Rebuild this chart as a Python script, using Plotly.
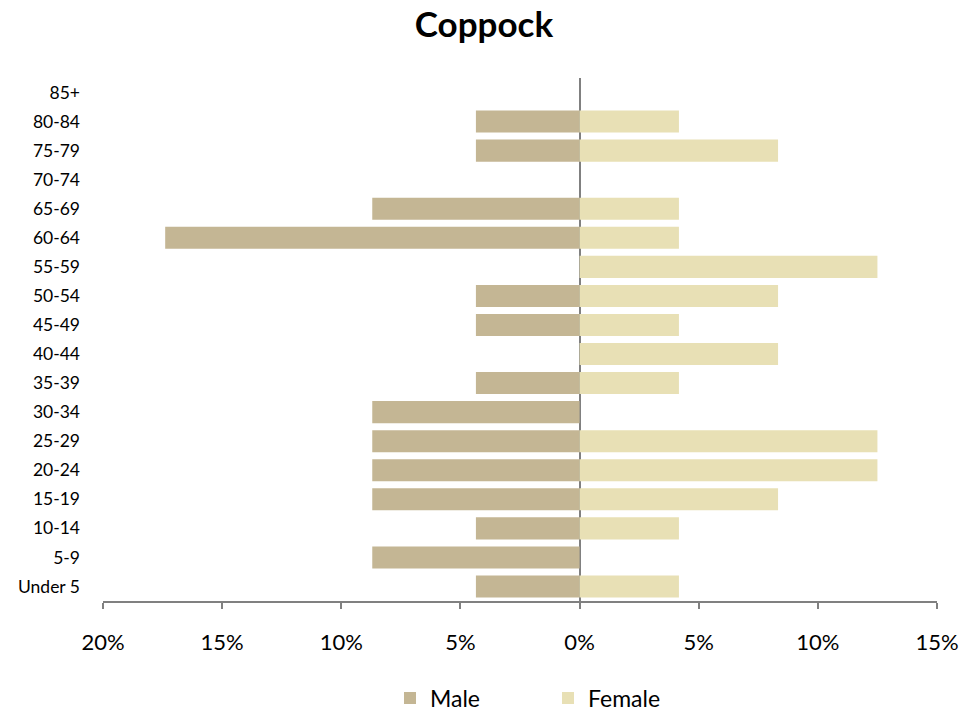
import plotly.graph_objects as go

age_groups = ["Under 5", "5-9", "10-14", "15-19", "20-24", "25-29", "30-34", "35-39",
              "40-44", "45-49", "50-54", "55-59", "60-64", "65-69", "70-74", "75-79",
              "80-84", "85+"]
male_pct = [4.35, 8.70, 4.35, 8.70, 8.70, 8.70, 8.70, 4.35,
            0.0, 4.35, 4.35, 0.0, 17.39, 8.70, 0.0, 4.35, 4.35, 0.0]
female_pct = [4.17, 0.0, 4.17, 8.33, 12.5, 12.5, 0.0, 4.17,
              8.33, 4.17, 8.33, 12.5, 4.17, 4.17, 0.0, 8.33, 4.17, 0.0]
tick_vals = [-20, -15, -10, -5, 0, 5, 10, 15]
tick_text = ["20%", "15%", "10%", "5%", "0%", "5%", "10%", "15%"]

FONT = "Lato, 'Open Sans', sans-serif"
W, H = 979, 713
L, R, T, B = 103, 42, 78, 112
PH = H - T - B

fig = go.Figure()
fig.add_trace(go.Bar(
    y=age_groups, x=[-v for v in male_pct], orientation="h", name="Male",
    marker=dict(color="#C4B694", line=dict(width=0)),
    customdata=male_pct, hovertemplate="%{y}: %{customdata:.2f}%<extra>Male</extra>"))
fig.add_trace(go.Bar(
    y=age_groups, x=female_pct, orientation="h", name="Female",
    marker=dict(color="#E8E0B5", line=dict(width=0)),
    hovertemplate="%{y}: %{x:.2f}%<extra>Female</extra>"))

fig.update_layout(
    width=W, height=H,
    barmode="relative", bargap=0.24,
    paper_bgcolor="white", plot_bgcolor="white",
    margin=dict(l=L, r=R, t=T, b=B, autoexpand=False),
    font=dict(family=FONT, color="#000000"),
    title=dict(text="<b>Coppock</b>", x=484 / W, xanchor="center",
               y=1 - 25 / H, yanchor="middle",
               font=dict(size=35, family=FONT, color="#000000")),
    xaxis=dict(range=[-20, 15], tickvals=tick_vals, ticktext=tick_text,
               showgrid=False, zeroline=True, zerolinecolor="#808080", zerolinewidth=2,
               showline=True, linecolor="#808080", linewidth=2,
               ticks="outside", ticklen=6, tickwidth=1.5, tickcolor="#808080",
               tickfont=dict(size=22, family=FONT), ticklabelstandoff=15),
    yaxis=dict(categoryorder="array", categoryarray=age_groups,
               showgrid=False, zeroline=False, showline=False, ticks="",
               tickfont=dict(size=17.5, family=FONT), ticklabelstandoff=22),
    legend=dict(orientation="h", x=(390 - L) / (W - L - R), xanchor="left",
                y=-(698 - (H - B)) / PH, yanchor="middle",
                font=dict(size=23, family=FONT), traceorder="normal",
                itemwidth=30, entrywidth=113),
)

fig.write_html("out.html", config={"displayModeBar": False},
               post_script="document.body.style.margin='0';")
